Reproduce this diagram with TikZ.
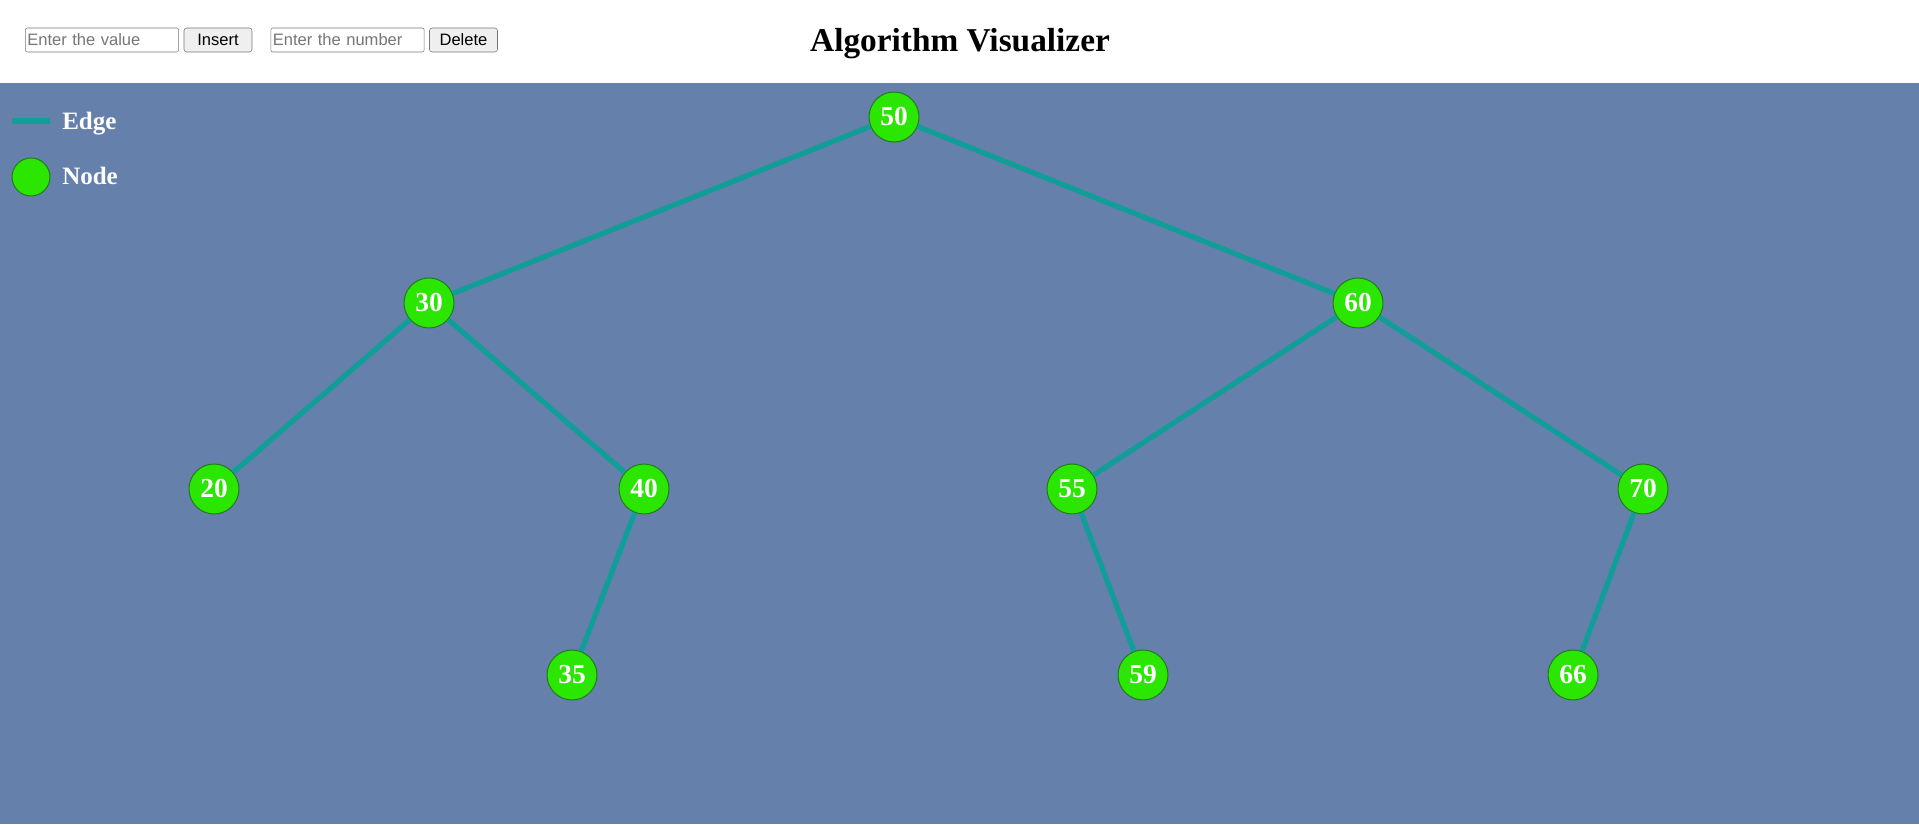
\documentclass[tikz,border=0pt]{standalone}
\usepackage{fontspec}
\setmainfont{Liberation Serif}
\setsansfont{Liberation Sans}
\usepackage{tikz}
\usetikzlibrary{positioning}

\definecolor{canvasblue}{RGB}{100,128,171}
\definecolor{edgeteal}{RGB}{17,158,152}
\definecolor{nodegreen}{RGB}{42,230,0}
\definecolor{nodeborder}{RGB}{34,122,30}
\definecolor{fieldgray}{RGB}{118,118,118}
\definecolor{buttonfill}{RGB}{239,239,239}

\tikzset{
    treenode/.style={
        circle,
        draw=nodeborder,
        line width=0.75pt,
        fill=nodegreen,
        minimum size=37.5pt,
        inner sep=0pt,
        text=white,
        font=\fontsize{20.6}{22}\selectfont\bfseries
    },
    treeedge/.style={draw=edgeteal, line width=3.9pt},
    inputfield/.style={
        draw=fieldgray,
        fill=white,
        rounded corners=1.5pt,
        text width=112pt,
        align=left,
        inner xsep=1.5pt,
        minimum height=18pt,
        text=fieldgray,
        font=\sffamily\fontsize{12.4}{14}\selectfont
    },
    formbutton/.style={
        draw=fieldgray,
        fill=buttonfill,
        rounded corners=2pt,
        minimum width=51pt,
        minimum height=18pt,
        inner sep=0pt,
        font=\sffamily\fontsize{12.4}{14}\selectfont
    },
    legendtext/.style={
        anchor=base west,
        inner sep=0pt,
        text=white,
        font=\fontsize{18.75}{20}\selectfont\bfseries
    }
}

\begin{document}
\begin{tikzpicture}[x=0.75pt, y=0.75pt]
\useasboundingbox (0,0) rectangle (1919,824);
\fill[canvasblue] (0,0) rectangle (1919,824);
\fill[white] (0,741) rectangle (1919,824);

% top bar
\node[inputfield] (valuefield) at (102,784) {Enter the value};
\node[formbutton] (insertbtn) at (218,784) {Insert};
\node[inputfield] (numberfield) at (347.5,784) {Enter the number};
\node[formbutton] (deletebtn) at (463.5,784) {Delete};
\node[anchor=base, inner sep=0pt, font=\fontsize{25}{28}\selectfont\bfseries] (title) at (960,772) {Algorithm Visualizer};

% legend
\coordinate (edgestart) at (12,703);
\coordinate (edgeend) at (50,703);
\draw[treeedge] (edgestart) -- (edgeend);
\node[legendtext] (edgelabel) at (62,694) {Edge};
\node[treenode, minimum size=28.5pt] (legendnode) at (31,647) {};
\node[legendtext] (nodelabel) at (62,639) {Node};

% tree
\node[treenode] (n50) at (894,707) {50};
\node[treenode] (n30) at (429,521) {30};
\node[treenode] (n60) at (1358,521) {60};
\node[treenode] (n20) at (214,335) {20};
\node[treenode] (n40) at (644,335) {40};
\node[treenode] (n55) at (1072,335) {55};
\node[treenode] (n70) at (1643,335) {70};
\node[treenode] (n35) at (572,149) {35};
\node[treenode] (n59) at (1143,149) {59};
\node[treenode] (n66) at (1573,149) {66};

\foreach \a/\b in {n50/n30, n50/n60, n30/n20, n30/n40, n40/n35, n60/n55, n60/n70, n55/n59, n70/n66}
    \draw[treeedge] (\a) -- (\b);
\end{tikzpicture}
\end{document}
